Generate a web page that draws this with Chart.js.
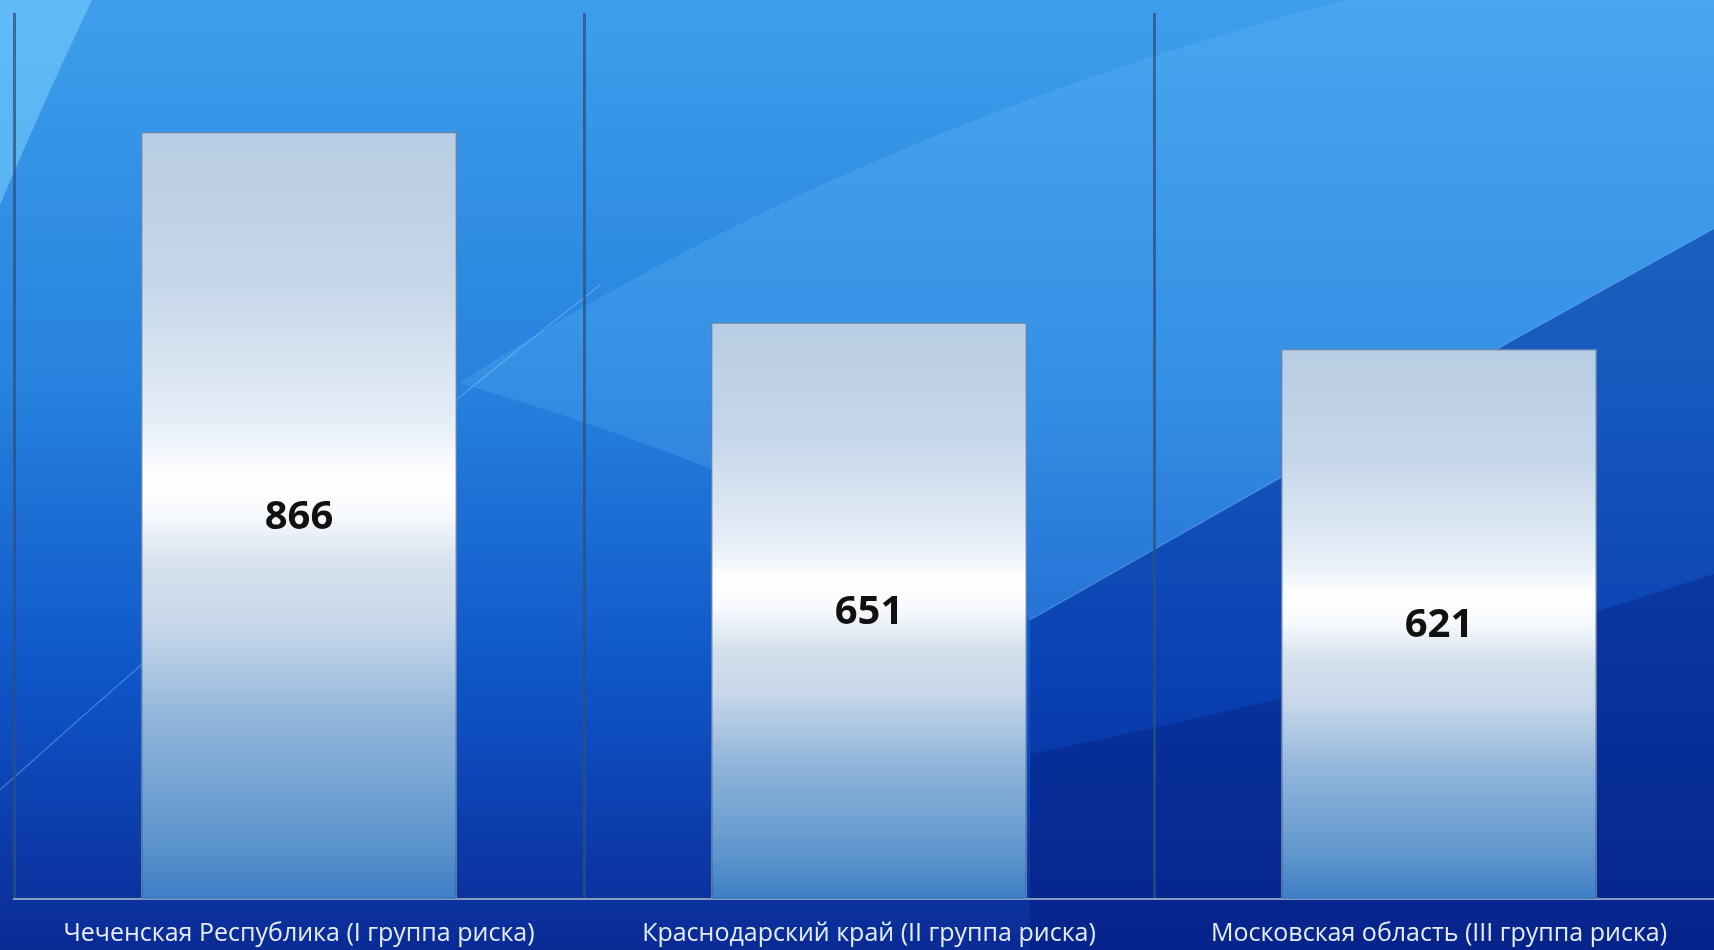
<!DOCTYPE html>
<html>
<head>
<meta charset="utf-8">
<script src="https://cdn.jsdelivr.net/npm/chart.js@4/dist/chart.umd.min.js"></script>
<style>
  html, body { margin: 0; padding: 0; overflow: hidden; background: #0a2590; }
  #wrap { width: 1726px; height: 970px; }
</style>
</head>
<body>
<div id="wrap"><canvas id="myChart"></canvas></div>
<script>
var regions = ['Чеченская Республика (I группа риска)', 'Краснодарский край (II группа риска)', 'Московская область (III группа риска)'];
var counts = [866, 651, 621];
var yMax = 1000;

// blue desktop-like backdrop
var backdrop = {
  id: 'backdrop',
  beforeDraw: function(chart) {
    var c = chart.ctx, w = chart.width, h = chart.height;
    c.save();
    var g = c.createLinearGradient(0, 0, 0, h);
    g.addColorStop(0, '#3f9eec');
    g.addColorStop(0.4, '#2682de');
    g.addColorStop(0.7, '#0f55c8');
    g.addColorStop(1, '#0a2792');
    c.fillStyle = g;
    c.fillRect(0, 0, w, h);

    // light wedge top left
    c.fillStyle = 'rgba(130,215,255,0.5)';
    c.beginPath();
    c.moveTo(0, 0);
    c.lineTo(92, 0);
    c.quadraticCurveTo(40, 110, 0, 205);
    c.closePath();
    c.fill();

    // soft light swoosh in the upper middle / right
    c.fillStyle = 'rgba(110,200,255,0.2)';
    c.beginPath();
    c.moveTo(459, 383);
    c.quadraticCurveTo(850, 130, 1345, 0);
    c.lineTo(w, 0);
    c.lineTo(w, 222);
    c.lineTo(1508, 343);
    c.lineTo(1282, 477);
    c.lineTo(1030, 620);
    c.quadraticCurveTo(760, 470, 459, 383);
    c.closePath();
    c.fill();

    // thin highlight lines
    c.strokeStyle = 'rgba(150,215,255,0.35)';
    c.lineWidth = 1.5;
    c.beginPath();
    c.moveTo(0, 790);
    c.quadraticCurveTo(300, 520, 600, 285);
    c.stroke();
    c.beginPath();
    c.moveTo(1030, 620);
    c.lineTo(1282, 477);
    c.lineTo(1508, 343);
    c.lineTo(w, 222);
    c.stroke();

    // darker lower right
    c.fillStyle = 'rgba(5,40,150,0.45)';
    c.beginPath();
    c.moveTo(1030, 620);
    c.lineTo(1282, 477);
    c.lineTo(1508, 343);
    c.lineTo(w, 222);
    c.lineTo(w, h);
    c.lineTo(1030, h);
    c.closePath();
    c.fill();
    c.fillStyle = 'rgba(5,25,120,0.35)';
    c.beginPath();
    c.moveTo(1030, 754);
    c.quadraticCurveTo(1400, 680, w, 570);
    c.lineTo(w, h);
    c.lineTo(1030, h);
    c.closePath();
    c.fill();
    c.restore();
  }
};

// numbers in the middle of each bar
var barValues = {
  id: 'barValues',
  afterDatasetsDraw: function(chart) {
    var c = chart.ctx;
    var meta = chart.getDatasetMeta(0);
    c.save();
    c.font = 'bold 40px "Open Sans"';
    c.fillStyle = '#111111';
    c.textAlign = 'center';
    c.textBaseline = 'middle';
    meta.data.forEach(function(bar, i) {
      c.fillText(counts[i], bar.x, (bar.y + bar.base) / 2 + 2);
    });
    c.restore();
  }
};

function barFill(ctx) {
  var chart = ctx.chart;
  if (!chart.chartArea) return '#dde8f4';
  var yScale = chart.scales.y;
  var top = yScale.getPixelForValue(counts[ctx.dataIndex]);
  var base = yScale.getPixelForValue(0);
  var g = chart.ctx.createLinearGradient(0, top, 0, base);
  g.addColorStop(0, '#b8cce3');
  g.addColorStop(0.2, '#c6d7ea');
  g.addColorStop(0.38, '#e6eef7');
  g.addColorStop(0.45, '#ffffff');
  g.addColorStop(0.5, '#f6f9fc');
  g.addColorStop(0.57, '#d3dfec');
  g.addColorStop(0.64, '#c8d8ea');
  g.addColorStop(0.77, '#8fb4da');
  g.addColorStop(0.92, '#5f96cd');
  g.addColorStop(1, '#3e7ec6');
  return g;
}

var ctx = document.getElementById('myChart').getContext('2d');
var myChart = new Chart(ctx, {
  type: 'bar',
  data: {
    labels: regions,
    datasets: [{
      data: counts,
      backgroundColor: barFill,
      borderColor: 'rgba(110,130,160,0.9)',
      borderWidth: 1.5,
      barPercentage: 0.555,
      categoryPercentage: 1
    }]
  },
  options: {
    responsive: true,
    maintainAspectRatio: false,
    animation: false,
    layout: { padding: { left: 14, right: 2, top: 13, bottom: 1 } },
    plugins: { legend: { display: false }, tooltip: { enabled: false } },
    scales: {
      x: {
        offset: true,
        grid: { offset: true, drawTicks: false, color: 'rgba(45,80,125,0.75)', lineWidth: 3 },
        border: { display: true, color: 'rgba(150,170,195,0.9)', width: 2 },
        ticks: { color: '#e4ecf6', padding: 20, font: { family: '"Open Sans"', size: 25 } }
      },
      y: {
        display: false,
        min: 0,
        max: yMax
      }
    }
  },
  plugins: [backdrop, barValues]
});
</script>
</body>
</html>
